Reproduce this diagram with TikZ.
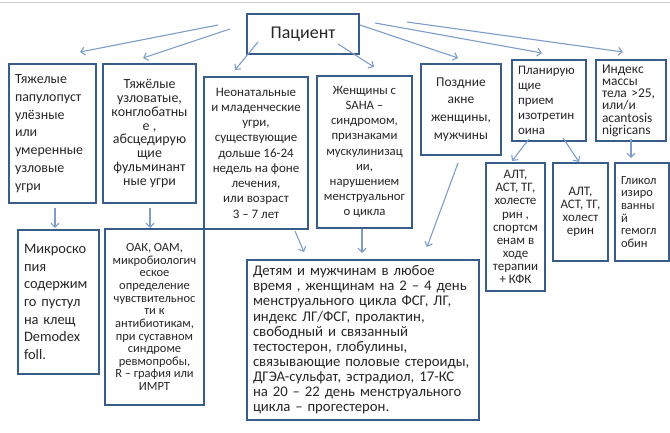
\documentclass[tikz,border=0pt]{standalone}
\usepackage{fontspec}
\setmainfont{Carlito}
\usepackage{tikz}
\usetikzlibrary{arrows.meta}
\definecolor{boxblue}{RGB}{56,93,138}
\definecolor{arrowblue}{RGB}{125,157,200}
\definecolor{textgray}{RGB}{38,38,38}
\tikzset{casenode/.style={draw=boxblue,line width=2bp,rectangle,inner xsep=4bp,inner ysep=2bp,text=textgray,font=\fontsize{13}{15}\selectfont},
    leftcase/.style={casenode,align=left,inner xsep=6bp,text width=\casetextwidth bp},
    centercase/.style={casenode,align=center},
    pointer/.style={draw=arrowblue,line width=1.1bp,-{Straight Barb[length=4bp,width=8bp]}}
}
\newcommand{\casebox}[7]
{
% args: (name, x of left edge, y of top edge, width, height, style, text)
    \pgfmathsetmacro\casetextwidth{#4-12}
    \node (#1) at (#2,#3) [#6,anchor=north west,minimum width=#4 bp,minimum height=#5 bp] {#7};
}

\begin{document}
\begin{tikzpicture}[x=1bp,y=-1bp]

\useasboundingbox (0,0) rectangle (670,433);
\draw [black!18] (0,2) -- (670,2);

% patient
\node (patient) at (246,13) [casenode,anchor=north west,minimum width=112bp,minimum height=40bp,font=\fontsize{18}{20}\selectfont] {Пациент};

%% first row: groups of patients
\casebox{severe}{8}{63}{87}{139}{leftcase,font=\fontsize{14}{17.8}\selectfont}{Тяжелые\\ папулопуст\\ улёзные\\ или\\ умеренные\\ узловые\\ угри}
\casebox{nodular}{102}{63}{93}{139}{centercase,font=\fontsize{14}{13.9}\selectfont}{Тяжёлые\\ узловатые,\\ конглобатны\\ е ,\\ абсцедирую\\ щие\\ фульминант\\ ные угри}
\casebox{neonatal}{203}{76}{104}{152}{centercase,font=\fontsize{13}{15.3}\selectfont}{Неонатальные\\ и младенческие\\ угри,\\ существующие\\ дольше 16-24\\ недель на фоне\\ лечения,\\ или возраст\\ 3 – 7 лет}
\casebox{saha}{316}{75}{95}{152}{centercase,font=\fontsize{12.8}{15.2}\selectfont}{Женщины с\\ SAHA –\\ синдромом,\\ признаками\\ мускулинизац\\ ии,\\ нарушением\\ менструальног\\ о цикла}
\casebox{lateacne}{420}{63}{80}{91}{centercase,font=\fontsize{13.5}{17.7}\selectfont}{Поздние\\ акне\\ женщины,\\ мужчины}
\casebox{isotret}{511}{59}{74}{81}{leftcase}{Планирую\\ щие\\ прием\\ изотретин\\ оина}
\casebox{bmi}{595}{59}{70}{81}{leftcase,font=\fontsize{13.5}{12.3}\selectfont}{Индекс\\ массы\\ тела >25,\\ или/и\\ acantosis\\ nigricans}

%% second row: examinations
\casebox{microscopy}{17}{229}{81}{144}{leftcase,font=\fontsize{14.5}{17.7}\selectfont}{Микроско\\ пия\\ содержим\\ го пустул\\ на клещ\\ Demodex\\ foll.}
\casebox{labs}{104}{228}{99}{176}{centercase,font=\fontsize{12.5}{12.7}\selectfont}{ОАК, ОАМ,\\ микробиологич\\ еское\\ определение\\ чувствительнос\\ ти к\\ антибиотикам,\\ при суставном\\ синдроме\\ ревмопробы,\\ R – графия или\\ ИМРТ}
\casebox{hormones}{246}{259}{232}{160}{leftcase,font=\fontsize{14.8}{15.2}\selectfont}{Детям и мужчинам в любое\\ время , женщинам на 2 – 4 день\\ менструального цикла ФСГ, ЛГ,\\ индекс ЛГ/ФСГ, пролактин,\\ свободный и связанный\\ тестостерон, глобулины,\\ связывающие половые стероиды,\\ ДГЭА-сульфат, эстрадиол, 17-КС\\ на 20 – 22 день менструального\\ цикла – прогестерон.}
\casebox{livertest}{485}{162}{59}{128}{centercase,font=\fontsize{13}{13.2}\selectfont}{АЛТ,\\ АСТ, ТГ,\\ холесте\\ рин ,\\ спортсм\\ енам в\\ ходе\\ терапии\\ + КФК}
\casebox{liverbasic}{552}{162}{55}{98}{centercase,font=\fontsize{13}{13.3}\selectfont}{АЛТ,\\ АСТ, ТГ,\\ холест\\ ерин}
\casebox{hbaic}{614}{162}{54}{98}{leftcase,font=\fontsize{12.5}{12.7}\selectfont}{Гликол\\ изиро\\ ванны\\ й\\ гемогл\\ обин}

%% arrow ends
% from patient
\coordinate (p1) at (218,25);  \coordinate (q1) at (80,52);
\coordinate (p2) at (230,29);  \coordinate (q2) at (143,58);
\coordinate (p3) at (258,42);  \coordinate (q3) at (235,70);
\coordinate (p4) at (338,44);  \coordinate (q4) at (374,67);
\coordinate (p5) at (360,25);  \coordinate (q5) at (458,58);
\coordinate (p6) at (375,23);  \coordinate (q6) at (542,53);
\coordinate (p7) at (407,22);  \coordinate (q7) at (623,52);
% to examinations
\coordinate (r1) at (55,208);  \coordinate (s1) at (55,228);
\coordinate (r2) at (150,208); \coordinate (s2) at (150,228);
\coordinate (r3) at (295,231); \coordinate (s3) at (304,252);
\coordinate (r4) at (362,229); \coordinate (s4) at (362,253);
\coordinate (r5) at (458,163); \coordinate (s5) at (427,247);
\coordinate (r6) at (529,139); \coordinate (s6) at (512,161);
\coordinate (r7) at (563,138); \coordinate (s7) at (579,162);
\coordinate (r8) at (631,139); \coordinate (s8) at (631,158);

\foreach \i in {1,...,7}
    \draw [pointer] (p\i) -- (q\i);
\foreach \i in {1,...,8}
    \draw [pointer] (r\i) -- (s\i);

\end{tikzpicture}
\end{document}
